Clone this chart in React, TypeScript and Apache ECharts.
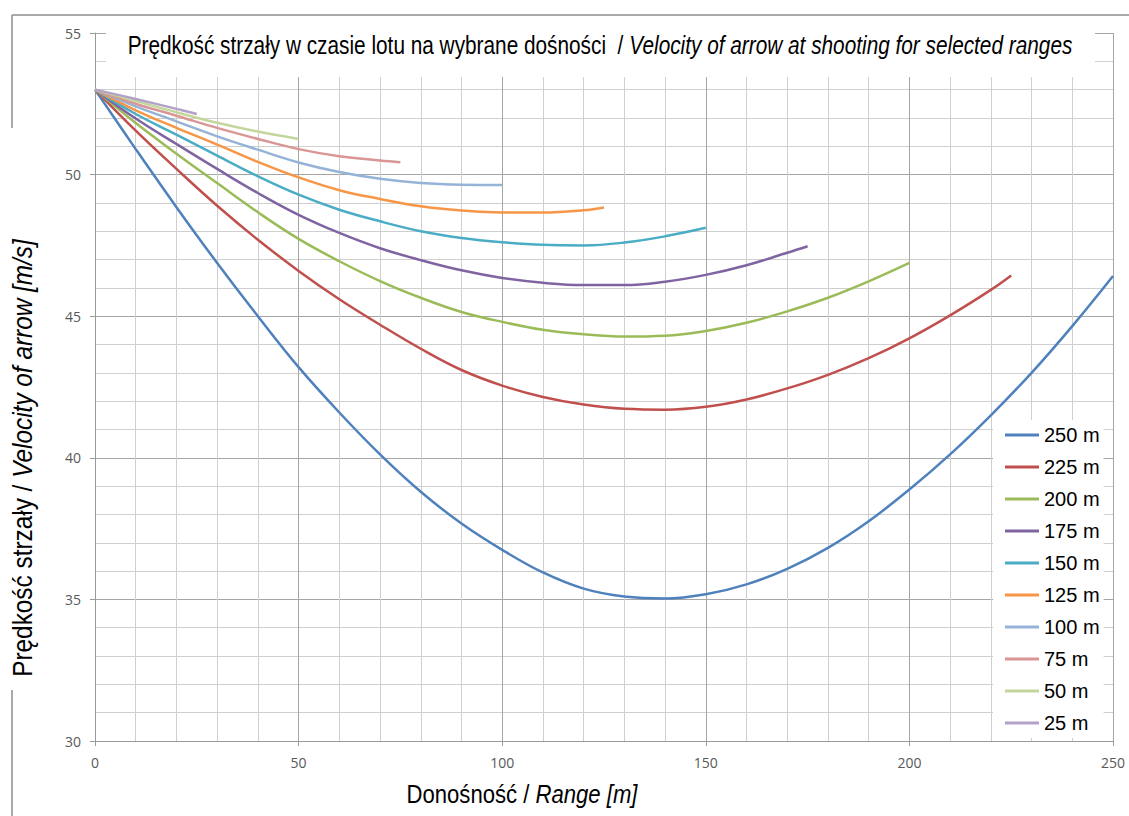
import React, { useEffect, useRef } from "react";
import * as echarts from "echarts";

const seriesNames = ["250 m", "225 m", "200 m", "175 m", "150 m", "125 m", "100 m", "75 m", "50 m", "25 m"];
const colors = ["#4F81BD", "#C0504D", "#9BBB59", "#8064A2", "#4BACC6", "#F79646", "#95B3D7", "#D99694", "#C3D69B", "#B3A2C7"];

const x250 = [0, 10, 20, 30, 40, 50, 60, 70, 80, 90, 100, 110, 120, 130, 140, 150, 160, 170, 180, 190, 200, 210, 220, 230, 240, 250];
const v250 = [53, 50.9, 48.85, 46.88, 45.0, 43.2, 41.6, 40.12, 38.8, 37.68, 36.75, 35.95, 35.38, 35.1, 35.03, 35.18, 35.53, 36.08, 36.82, 37.76, 38.88, 40.12, 41.5, 43.0, 44.65, 46.42];
const x225 = [0, 10, 20, 30, 40, 50, 60, 70, 80, 90, 100, 110, 120, 130, 140, 150, 160, 170, 180, 190, 200, 210, 220, 225];
const v225 = [53, 51.55, 50.2, 48.9, 47.7, 46.6, 45.6, 44.7, 43.85, 43.1, 42.55, 42.15, 41.88, 41.73, 41.7, 41.8, 42.06, 42.45, 42.93, 43.52, 44.22, 45.03, 45.93, 46.44];
const x200 = [0, 10, 20, 30, 40, 50, 60, 70, 80, 90, 100, 110, 120, 130, 140, 150, 160, 170, 180, 190, 200];
const v200 = [53, 51.82, 50.74, 49.7, 48.67, 47.73, 46.94, 46.24, 45.65, 45.15, 44.8, 44.52, 44.36, 44.28, 44.31, 44.48, 44.77, 45.17, 45.65, 46.23, 46.88];
const x175 = [0, 10, 20, 30, 40, 50, 60, 70, 80, 90, 100, 110, 120, 130, 140, 150, 160, 170, 175];
const v175 = [53, 51.98, 51.08, 50.2, 49.35, 48.58, 47.94, 47.4, 46.98, 46.62, 46.35, 46.18, 46.1, 46.1, 46.22, 46.46, 46.8, 47.24, 47.47];
const x150 = [0, 10, 20, 30, 40, 50, 60, 70, 80, 90, 100, 110, 120, 130, 140, 150];
const v150 = [53, 52.14, 51.41, 50.67, 49.94, 49.29, 48.76, 48.35, 48.0, 47.76, 47.61, 47.52, 47.5, 47.6, 47.82, 48.12];
const x125 = [0, 10, 20, 30, 40, 50, 60, 70, 80, 90, 100, 110, 120, 125];
const v125 = [53, 52.27, 51.65, 51.06, 50.45, 49.9, 49.45, 49.14, 48.88, 48.73, 48.66, 48.66, 48.74, 48.84];
const x100 = [0, 10, 20, 30, 40, 50, 60, 70, 80, 90, 100];
const v100 = [53, 52.41, 51.88, 51.35, 50.88, 50.43, 50.09, 49.85, 49.7, 49.64, 49.63];
const x75 = [0, 10, 20, 30, 40, 50, 60, 70, 75];
const v75 = [53, 52.5, 52.08, 51.65, 51.26, 50.9, 50.65, 50.5, 50.44];
const x50 = [0, 10, 20, 30, 40, 50];
const v50 = [53, 52.6, 52.2, 51.83, 51.52, 51.26];
const x25 = [0, 10, 20, 25];
const v25 = [53, 52.67, 52.32, 52.14];

const xs = [x250, x225, x200, x175, x150, x125, x100, x75, x50, x25];
const vs = [v250, v225, v200, v175, v150, v125, v100, v75, v50, v25];

const titleNormal = "Prędkość strzały w czasie lotu na wybrane dośności  / ";
const titleItalic = "Velocity of arrow at shooting for selected ranges";
const xNameNormal = "Donośność / ";
const xNameItalic = "Range [m]";
const yNameNormal = "Prędkość strzały / ";
const yNameItalic = "Velocity of arrow [m/s]";

const SANS = "'Liberation Sans', Arial, sans-serif";
const LABEL_FONT = "'Open Sans', 'DejaVu Sans', sans-serif";

const richStyles = (size: number) => ({
  n: { fontFamily: SANS, fontSize: size, fontWeight: "normal", fill: "#000" },
  i: { fontFamily: SANS, fontSize: size, fontWeight: "normal", fontStyle: "italic", fill: "#000" },
});

export default function App() {
  const ref = useRef<HTMLDivElement>(null);
  useEffect(() => {
    document.body.style.margin = "0";
    const chart = echarts.init(ref.current!, null, { renderer: "svg" });
    const series = seriesNames.map((name, i) => ({
      name,
      type: "line",
      data: xs[i].map((x, j) => [x, vs[i][j]]),
      symbol: "none",
      smooth: 0.4,
      lineStyle: { width: 2.5, color: colors[i] },
      itemStyle: { color: colors[i] },
      z: 3,
    }));
    const frameStyle = { stroke: "#8c8c8c", lineWidth: 1.5 };
    chart.setOption({
      animation: false,
      backgroundColor: "#fff",
      grid: { left: 95, right: 16, top: 33, bottom: 75 },
      legend: {
        orient: "vertical",
        left: 993,
        top: 420,
        padding: [5, 4, 5, 12],
        backgroundColor: "#fff",
        icon: "rect",
        itemWidth: 34,
        itemHeight: 3,
        itemGap: 12,
        textStyle: { fontFamily: SANS, fontSize: 20, lineHeight: 20, color: "#000" },
        data: seriesNames,
      },
      xAxis: {
        type: "value",
        min: 0,
        max: 250,
        interval: 50,
        axisLine: { show: true, lineStyle: { color: "#9a9a9a", width: 1 } },
        axisTick: { show: true, length: 5, lineStyle: { color: "#9a9a9a" } },
        axisLabel: { margin: 14, fontFamily: LABEL_FONT, fontSize: 14, color: "#595959" },
        splitLine: { show: true, lineStyle: { color: "#a6a6a6", width: 1 } },
        minorTick: { show: false, splitNumber: 5 },
        minorSplitLine: { show: true, lineStyle: { color: "#cfcfcf", width: 1 } },
      },
      yAxis: {
        type: "value",
        min: 30,
        max: 55,
        interval: 5,
        axisLine: { show: true, lineStyle: { color: "#9a9a9a", width: 1 } },
        axisTick: { show: true, length: 5, lineStyle: { color: "#9a9a9a" } },
        axisLabel: { margin: 14, fontFamily: LABEL_FONT, fontSize: 14, color: "#595959" },
        splitLine: { show: true, lineStyle: { color: "#a6a6a6", width: 1 } },
        minorTick: { show: false, splitNumber: 5 },
        minorSplitLine: { show: true, lineStyle: { color: "#cfcfcf", width: 1 } },
      },
      graphic: [
        { type: "line", silent: true, z: 10, shape: { x1: 12, y1: 15, x2: 1129, y2: 15 }, style: frameStyle },
        { type: "line", silent: true, z: 10, shape: { x1: 12, y1: 15, x2: 12, y2: 128 }, style: frameStyle },
        { type: "line", silent: true, z: 10, shape: { x1: 12, y1: 690, x2: 12, y2: 816 }, style: frameStyle },
        {
          type: "rect",
          silent: true,
          z: 10,
          shape: { x: 106, y: 24, width: 989, height: 53 },
          style: { fill: "#fff" },
        },
        {
          type: "text",
          silent: true,
          z: 11,
          x: 600,
          y: 45,
          scaleX: 0.8,
          style: {
            text: `{n|${titleNormal}}{i|${titleItalic}}`,
            align: "center",
            verticalAlign: "middle",
            rich: richStyles(26),
          },
        },
        {
          type: "text",
          silent: true,
          z: 11,
          x: 522,
          y: 794,
          scaleX: 0.85,
          style: {
            text: `{n|${xNameNormal}}{i|${xNameItalic}}`,
            align: "center",
            verticalAlign: "middle",
            rich: richStyles(26),
          },
        },
        {
          type: "text",
          silent: true,
          z: 11,
          x: 22,
          y: 458,
          rotation: Math.PI / 2,
          scaleX: 0.87,
          style: {
            text: `{n|${yNameNormal}}{i|${yNameItalic}}`,
            align: "center",
            verticalAlign: "middle",
            rich: richStyles(28),
          },
        },
      ],
      series,
    });
    return () => chart.dispose();
  }, []);
  return <div ref={ref} style={{ position: "absolute", left: 0, top: 0, width: 1129, height: 816 }} />;
}
